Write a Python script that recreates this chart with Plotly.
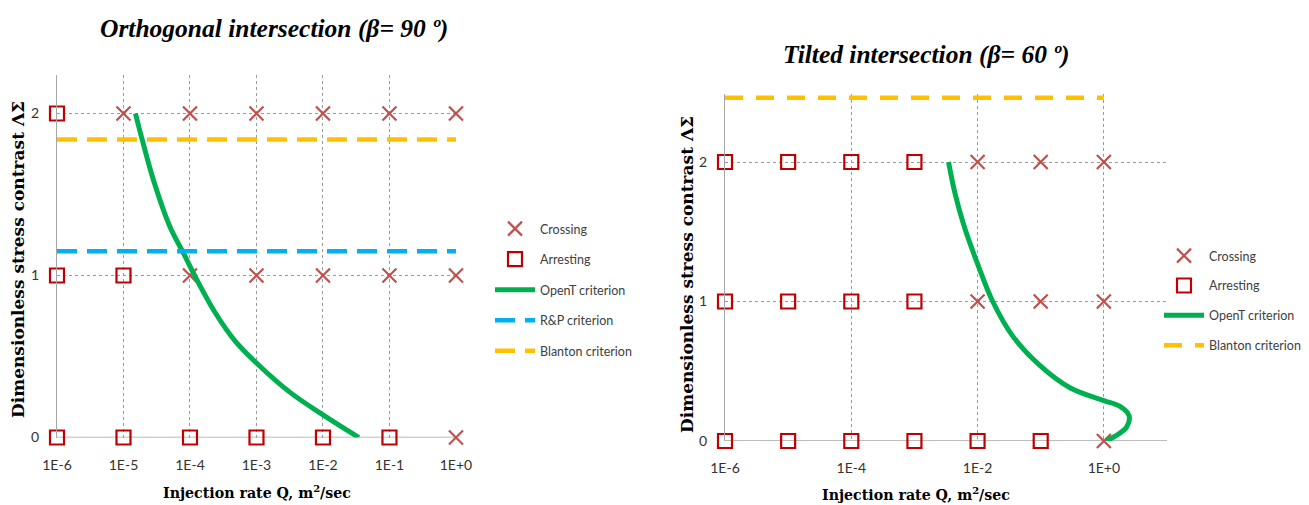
import plotly.graph_objects as go

W, H = 1309, 505

# ---- data ----------------------------------------------------------------
# Injection rates (m^2/sec) at which the experiments were run
left_ticks = [1e-6, 1e-5, 1e-4, 1e-3, 1e-2, 1e-1, 1e0]
left_ticktext = ["1E-6", "1E-5", "1E-4", "1E-3", "1E-2", "1E-1", "1E+0"]
right_ticks = [1e-6, 1e-4, 1e-2, 1e0]
right_ticktext = ["1E-6", "1E-4", "1E-2", "1E+0"]
y_ticks = [0, 1, 2]

# Orthogonal intersection (beta = 90 deg)
orth_cross_q = [1e-5, 1e-4, 1e-3, 1e-2, 1e-1, 1e0, 1e-4, 1e-3, 1e-2, 1e-1, 1e0, 1e0]
orth_cross_s = [2, 2, 2, 2, 2, 2, 1, 1, 1, 1, 1, 0]
orth_arrest_q = [1e-6, 1e-6, 1e-5, 1e-6, 1e-5, 1e-4, 1e-3, 1e-2, 1e-1]
orth_arrest_s = [2, 1, 1, 0, 0, 0, 0, 0, 0]
orth_opent_logq = [-4.82, -4.72, -4.55, -4.30, -4.10, -3.93, -3.62, -3.33, -3.00, -2.50, -2.00, -1.46]
orth_opent_s = [2.0, 1.84, 1.59, 1.30, 1.14, 1.0, 0.77, 0.60, 0.46, 0.28, 0.14, 0.0]
orth_rp = 1.15
orth_blanton = 1.84

# Tilted intersection (beta = 60 deg)
tilt_cross_q = [1e-2, 1e-1, 1e0, 1e-2, 1e-1, 1e0, 1e0]
tilt_cross_s = [2, 2, 2, 1, 1, 1, 0]
tilt_arrest_q = [1e-6, 1e-5, 1e-4, 1e-3, 1e-6, 1e-5, 1e-4, 1e-3,
                 1e-6, 1e-5, 1e-4, 1e-3, 1e-2, 1e-1]
tilt_arrest_s = [2, 2, 2, 2, 1, 1, 1, 1, 0, 0, 0, 0, 0, 0]
tilt_opent_logq = [-2.46, -2.36, -2.22, -2.0, -1.76, -1.44, -1.01, -0.53, 0.0, 0.25, 0.40, 0.36, 0.18, 0.03]
tilt_opent_s = [2.0, 1.78, 1.55, 1.27, 1.0, 0.75, 0.54, 0.38, 0.29, 0.25, 0.18, 0.10, 0.035, 0.0]
tilt_blanton = 2.46

crit_q = [1e-6, 1e0]

# ---- styles --------------------------------------------------------------
CROSS_COL = "#C0504D"
ARREST_COL = "#C00000"
OPENT_COL = "#00B050"
RP_COL = "#00B0F0"
BLANTON_COL = "#FFC000"
GRID_COL = "#9A9A9A"
AXIS_COL = "#A6A6A6"
TXT_COL = "#333333"
TICK_FONT = dict(family="Lato", size=14, color=TXT_COL)
LEG_FONT = dict(family="Lato", size=12.5, color="#404040")


def px_dom_x(x0, x1):
    return [x0 / W, x1 / W]


def px_dom_y(ytop, ybot):
    return [1 - ybot / H, 1 - ytop / H]


fig = go.Figure()

cross_marker = dict(symbol="x-thin", size=14, line=dict(width=2.2, color=CROSS_COL), color=CROSS_COL)
arrest_marker = dict(symbol="square-open", size=14, line=dict(width=2.2, color=ARREST_COL), color=ARREST_COL)


def add_panel(xa, ya, leg, cq, cs, aq, as_, oq, os_, crits):
    fig.add_trace(go.Scatter(x=cq, y=cs, mode="markers", name="Crossing", marker=cross_marker,
                             xaxis=xa, yaxis=ya, legend=leg, legendgroup=leg + "c", cliponaxis=False))
    fig.add_trace(go.Scatter(x=aq, y=as_, mode="markers", name="Arresting", marker=arrest_marker,
                             xaxis=xa, yaxis=ya, legend=leg, legendgroup=leg + "a", cliponaxis=False))
    fig.add_trace(go.Scatter(x=[10 ** v for v in oq], y=os_, mode="lines", name="OpenT criterion",
                             line=dict(color=OPENT_COL, width=5, shape="spline", smoothing=1.0),
                             xaxis=xa, yaxis=ya, legend=leg, legendgroup=leg + "o", cliponaxis=False))
    for name, val, col, dash in crits:
        fig.add_trace(go.Scatter(x=crit_q, y=[val, val], mode="lines", name=name,
                                 line=dict(color=col, width=4.5, dash=dash),
                                 xaxis=xa, yaxis=ya, legend=leg, legendgroup=leg + name,
                                 cliponaxis=False))


add_panel("x", "y", "legend", orth_cross_q, orth_cross_s, orth_arrest_q, orth_arrest_s,
          orth_opent_logq, orth_opent_s,
          [("R&P criterion", orth_rp, RP_COL, "20px,10px"),
           ("Blanton criterion", orth_blanton, BLANTON_COL, "20px,10px")])
add_panel("x2", "y2", "legend2", tilt_cross_q, tilt_cross_s, tilt_arrest_q, tilt_arrest_s,
          tilt_opent_logq, tilt_opent_s,
          [("Blanton criterion", tilt_blanton, BLANTON_COL, "18px,13px")])

xcommon = dict(type="log", showline=False, showgrid=True, gridcolor=GRID_COL, griddash="3px,3px",
               gridwidth=1, zeroline=False, ticks="", tickfont=TICK_FONT, ticklabelstandoff=17,
               fixedrange=True)
ycommon = dict(showline=True, linecolor=AXIS_COL, linewidth=1.3, showgrid=True, gridcolor=GRID_COL,
               griddash="3px,3px", gridwidth=1, zeroline=False, ticks="", tickvals=y_ticks,
               tickfont=TICK_FONT, ticklabelstandoff=14, fixedrange=True)

fig.update_layout(
    width=W, height=H, margin=dict(l=0, r=0, t=0, b=0, autoexpand=False),
    paper_bgcolor="white", plot_bgcolor="white",
    xaxis=dict(xcommon, domain=px_dom_x(57, 456), range=[-6, 0.0005],
               tickvals=left_ticks, ticktext=left_ticktext, anchor="y"),
    yaxis=dict(ycommon, domain=px_dom_y(75, 437.5), range=[0, (437.5 - 75) / 162], anchor="x"),
    xaxis2=dict(xcommon, domain=px_dom_x(725, 1167), range=[-6, 1],
                tickvals=right_ticks, ticktext=right_ticktext, anchor="y2"),
    yaxis2=dict(ycommon, domain=px_dom_y(94, 441), range=[0, (441 - 94) / 139.5], anchor="x2"),
    legend=dict(x=490 / W, y=1 - 214 / H, xanchor="left", yanchor="top", font=LEG_FONT,
                bgcolor="rgba(0,0,0,0)", tracegroupgap=11.3, itemwidth=40),
    legend2=dict(x=1159 / W, y=1 - 241 / H, xanchor="left", yanchor="top", font=LEG_FONT,
                 bgcolor="rgba(0,0,0,0)", tracegroupgap=10.6, itemwidth=40),
)

# x-axis baseline drawn along Delta-Sigma = 0
fig.add_shape(type="line", xref="x domain", yref="y", x0=0, x1=1, y0=0, y1=0,
              line=dict(color=AXIS_COL, width=1.3), layer="below")
fig.add_shape(type="line", xref="x2 domain", yref="y2", x0=0, x1=1, y0=0, y1=0,
              line=dict(color=AXIS_COL, width=1.3), layer="below")

TITLE_FONT = dict(family="Liberation Serif", size=25.5, color="black")
XT_FONT = dict(family="DejaVu Serif", size=14.2, color="black")
YT_FONT = dict(family="DejaVu Serif", size=17, color="black")

annots = [
    dict(text="<b><i>Orthogonal intersection (β= 90 º)</i></b>", x=274 / W, y=1 - 28 / H, font=TITLE_FONT),
    dict(text="<b><i>Tilted intersection (β= 60 º)</i></b>", x=926 / W, y=1 - 55 / H, font=TITLE_FONT),
    dict(text="<b>Injection rate Q, m<sup>2</sup>/sec</b>", x=257 / W, y=1 - 492 / H, font=XT_FONT),
    dict(text="<b>Injection rate Q, m<sup>2</sup>/sec</b>", x=916 / W, y=1 - 494 / H, font=XT_FONT),
    dict(text="<b>Dimensionless stress contrast ΛΣ</b>", x=18 / W, y=1 - 260 / H, font=YT_FONT,
         textangle=-90),
    dict(text="<b>Dimensionless stress contrast ΛΣ</b>", x=687 / W, y=1 - 275 / H, font=YT_FONT,
         textangle=-90),
]
for a in annots:
    fig.add_annotation(xref="paper", yref="paper", showarrow=False, xanchor="center", yanchor="middle", **a)

fig.write_html("out.html")
